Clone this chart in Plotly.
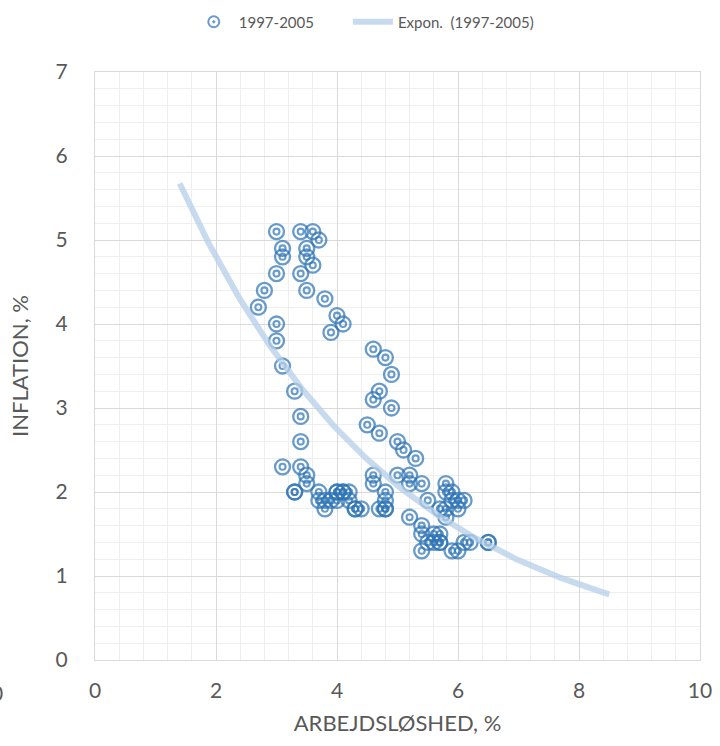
import numpy as np
import plotly.graph_objects as go

# Data (unemployment %, inflation %), 1997-2005
unemployment = [3.0, 3.4, 3.6, 3.7, 3.1, 3.1, 3.5, 3.5, 3.6, 3.0, 3.4, 2.8, 3.5, 2.7, 3.8,
                4.0, 4.1, 3.9, 3.0, 3.0, 3.1, 3.3, 3.4, 3.4, 3.1, 3.4, 3.5, 3.5, 3.3, 3.3,
                3.7, 3.7, 3.8, 3.8, 3.9, 4.0, 4.0, 4.1, 4.1, 4.0, 4.2, 4.2, 4.3, 4.3, 4.4,
                4.6, 4.8, 4.9, 4.7, 4.6, 4.9, 4.5, 4.7, 5.0, 5.1, 5.3, 4.6, 4.6, 5.0, 5.2,
                5.2, 5.4, 4.8, 4.8, 4.8, 4.8, 4.7, 5.2, 5.5, 5.8, 5.8, 5.9, 6.0, 6.1, 6.0,
                5.7, 5.8, 5.8, 5.9, 5.4, 5.4, 5.6, 5.7, 5.5, 5.6, 5.7, 5.7, 5.4, 5.9, 6.0,
                6.1, 6.2, 6.5, 6.5]
inflation = [5.1, 5.1, 5.1, 5.0, 4.9, 4.8, 4.9, 4.8, 4.7, 4.6, 4.6, 4.4, 4.4, 4.2, 4.3,
             4.1, 4.0, 3.9, 4.0, 3.8, 3.5, 3.2, 2.9, 2.6, 2.3, 2.3, 2.2, 2.1, 2.0, 2.0,
             2.0, 1.9, 1.9, 1.8, 1.9, 2.0, 2.0, 2.0, 2.0, 1.9, 2.0, 1.9, 1.8, 1.8, 1.8,
             3.7, 3.6, 3.4, 3.2, 3.1, 3.0, 2.8, 2.7, 2.6, 2.5, 2.4, 2.2, 2.1, 2.2, 2.2,
             2.1, 2.1, 2.0, 1.9, 1.8, 1.8, 1.8, 1.7, 1.9, 2.1, 2.0, 2.0, 1.9, 1.9, 1.8,
             1.8, 1.7, 1.8, 1.9, 1.6, 1.5, 1.5, 1.5, 1.4, 1.4, 1.4, 1.4, 1.3, 1.3, 1.3,
             1.4, 1.4, 1.4, 1.4]

series_name = "1997-2005"
trend_name = "Expon.  (1997-2005)"
trend_x_start = 1.4   # backward forecast start
trend_x_end = 8.5     # forward forecast end

x_ticks = [0, 2, 4, 6, 8, 10]
y_ticks = [0, 1, 2, 3, 4, 5, 6, 7]
x_title = "ARBEJDSLØSHED, %"
y_title = "INFLATION, %"

# Exponential trendline (Excel style: regression of ln(y) on x)
xs = np.array(unemployment, dtype=float)
ys = np.array(inflation, dtype=float)
b, ln_a = np.polyfit(xs, np.log(ys), 1)
tx = np.linspace(trend_x_start, trend_x_end, 200)
ty = np.exp(ln_a) * np.exp(b * tx)

BLUE = "rgba(46,117,182,0.72)"
GREY = "#595959"
FONT = "Lato, 'Open Sans', sans-serif"

fig = go.Figure()
# legend-only entry (ring with centre dot, like the reference legend)
fig.add_trace(go.Scatter(
    x=[None], y=[None], mode="markers", name=series_name, legendgroup="s",
    marker=dict(symbol="circle-open-dot", size=11, color=BLUE, line=dict(width=2, color=BLUE)),
    showlegend=True, legend="legend"))
fig.add_trace(go.Scatter(
    x=xs, y=ys, mode="markers", name=series_name, legendgroup="s",
    marker=dict(symbol="circle-open", size=15, color=BLUE, line=dict(width=2.3, color=BLUE)),
    showlegend=False))
fig.add_trace(go.Scatter(
    x=xs, y=ys, mode="markers", name=series_name, legendgroup="s",
    marker=dict(symbol="circle-open", size=6, color=BLUE, line=dict(width=2.1, color=BLUE)),
    showlegend=False))
fig.add_trace(go.Scatter(
    x=tx, y=ty, mode="lines", name=trend_name, legend="legend2",
    line=dict(color="rgba(180,206,232,0.75)", width=6)))

legend_common = dict(orientation="h", xanchor="left", y=1.085, yanchor="middle",
                     font=dict(size=15, color=GREY), itemwidth=40, bgcolor="rgba(0,0,0,0)")

fig.update_layout(
    width=720, height=746,
    paper_bgcolor="white", plot_bgcolor="white",
    margin=dict(l=95, r=20, t=72, b=86, autoexpand=False),
    font=dict(family=FONT, color=GREY),
    legend=dict(x=0.155, **legend_common),
    legend2=dict(x=0.418, **legend_common),
    showlegend=True,
    annotations=[dict(text="0", xref="paper", yref="paper", x=-0.162, y=-0.056,
                      xanchor="center", yanchor="middle", showarrow=False,
                      font=dict(size=21, color=GREY))],
)
fig.update_xaxes(
    range=[0, 10], tickvals=x_ticks, ticktext=[str(v) for v in x_ticks],
    showgrid=True, gridcolor="#d9d9d9", gridwidth=1,
    minor=dict(dtick=0.4, showgrid=True, gridcolor="#efefef", gridwidth=1),
    zeroline=False, showline=True, linecolor="#d9d9d9", mirror=True,
    tickfont=dict(size=21, color=GREY), ticks="", ticklabelstandoff=12,
    title=dict(text=x_title, font=dict(size=22, color=GREY), standoff=14),
)
fig.update_yaxes(
    range=[0, 7], tickvals=y_ticks, ticktext=[str(v) for v in y_ticks],
    showgrid=True, gridcolor="#d9d9d9", gridwidth=1,
    minor=dict(dtick=0.2, showgrid=True, gridcolor="#efefef", gridwidth=1),
    zeroline=False, showline=True, linecolor="#d9d9d9", mirror=True,
    tickfont=dict(size=21, color=GREY), ticks="", ticklabelstandoff=22,
    title=dict(text=y_title, font=dict(size=22, color=GREY), standoff=20),
)

fig.write_html("out.html", config={"displayModeBar": False},
               post_script="document.body.style.margin='0';")
